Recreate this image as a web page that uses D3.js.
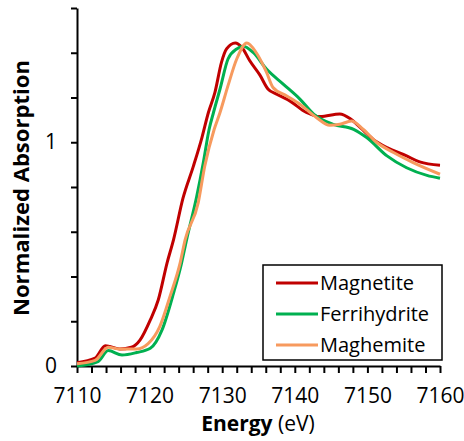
<!DOCTYPE html>
<html>
<head>
<meta charset="utf-8">
<script src="https://cdn.jsdelivr.net/npm/d3@7"></script>
<style>
body { margin: 0; background: #fff; }
text { font-family: "Open Sans", Lato, sans-serif; }
</style>
</head>
<body>
<script>
// energies (eV) and normalized absorption
var magnetiteE = [7110, 7112.5, 7113.9, 7114.5, 7115.9, 7117.5, 7118.7, 7120.1, 7121.2, 7122.4, 7123.3, 7124.6, 7126.0, 7127.2, 7128.1, 7129.0, 7129.9, 7130.6, 7131.8, 7132.7, 7133.8, 7135.2, 7136.3, 7137.5, 7139.3, 7141.6, 7143.5, 7146.2, 7147.6, 7149.0, 7150.8, 7152.7, 7155.4, 7157.2, 7160]
var magnetiteV = [0.015, 0.035, 0.09, 0.087, 0.076, 0.084, 0.117, 0.206, 0.296, 0.46, 0.565, 0.75, 0.89, 1.02, 1.133, 1.223, 1.357, 1.417, 1.444, 1.425, 1.364, 1.30, 1.238, 1.215, 1.185, 1.133, 1.115, 1.126, 1.106, 1.066, 1.013, 0.976, 0.939, 0.912, 0.897]

var ferriE = [7110, 7112.9, 7114.3, 7116.2, 7118.2, 7120.1, 7121.7, 7123.3, 7124.4, 7125.1, 7126.5, 7127.4, 7128.2, 7128.8, 7129.7, 7130.8, 7132.0, 7132.9, 7134.3, 7136.1, 7138.4, 7140.7, 7142.6, 7145.3, 7148.1, 7149.9, 7152.7, 7155.4, 7158.2, 7160]
var ferriV = [0.0, 0.02, 0.069, 0.049, 0.06, 0.079, 0.16, 0.326, 0.46, 0.565, 0.759, 0.909, 1.058, 1.133, 1.238, 1.372, 1.417, 1.429, 1.40, 1.327, 1.26, 1.193, 1.126, 1.08, 1.058, 1.021, 0.939, 0.886, 0.852, 0.839]

var maghemiteE = [7110, 7112.5, 7114.3, 7115.9, 7118.2, 7119.8, 7121.4, 7122.8, 7124.2, 7124.9, 7126.7, 7127.6, 7128.9, 7129.7, 7130.8, 7132.0, 7133.4, 7134.7, 7136.1, 7137.0, 7138.9, 7140.7, 7143.0, 7144.8, 7146.2, 7147.8, 7149.4, 7151.3, 7153.6, 7156.3, 7160]
var maghemiteV = [0.01, 0.025, 0.084, 0.076, 0.076, 0.10, 0.176, 0.31, 0.46, 0.565, 0.73, 0.894, 1.058, 1.133, 1.253, 1.372, 1.444, 1.40, 1.313, 1.245, 1.207, 1.17, 1.11, 1.076, 1.08, 1.095, 1.058, 0.999, 0.954, 0.909, 0.857]

var seriesNames = ["Magnetite", "Ferrihydrite", "Maghemite"]
var seriesColors = ["#c00000", "#00b050", "#f79a5e"]
var xTicks = [7110, 7120, 7130, 7140, 7150, 7160]
var yTickLabels = [0, 1]

var zip = function (es, vs)
{
    return es.map(function (e, i) { return {x: e, y: vs[i]} })
}
var series = [zip(magnetiteE, magnetiteV), zip(ferriE, ferriV), zip(maghemiteE, maghemiteV)]

var width = 464, height = 441

var xscale = d3.scaleLinear().domain([7110, 7160]).range([77, 440])
var yscale = d3.scaleLinear().domain([0, 1.6]).range([366, 8])

var svg = d3.select("body").append("svg")
    .attr("width", width)
    .attr("height", height)

// y axis, minor ticks every 0.2, labels only at 0 and 1
var yaxis = d3.axisLeft(yscale)
    .tickValues(d3.range(0, 1.61, 0.2))
    .tickSize(6)
    .tickSizeOuter(0)
    .tickPadding(14)
    .tickFormat(function (d) { return yTickLabels.some(function (t) { return Math.abs(t - d) < 1e-6 }) ? d3.format("d")(d) : "" })

svg.append("g").attr("transform", "translate(77,0)").call(yaxis)

var xaxis = d3.axisBottom(xscale)
    .tickValues(d3.range(7110, 7160.1, 2))
    .tickSize(7)
    .tickSizeOuter(0)
    .tickPadding(15)
    .tickFormat(function (d) { return xTicks.indexOf(Math.round(d)) >= 0 ? d : "" })

svg.append("g").attr("transform", "translate(0,366)").call(xaxis)

svg.selectAll(".domain, .tick line").attr("stroke", "#000").attr("stroke-width", 2)
svg.selectAll(".tick text").attr("font-size", 21).attr("fill", "#000").style("font-family", "'Open Sans', sans-serif")

// lines
var line = d3.line()
    .x(function (p) { return xscale(p.x) })
    .y(function (p) { return yscale(p.y) })
    .curve(d3.curveMonotoneX)

svg.selectAll("path.series")
    .data(series)
    .enter()
    .append("path")
    .attr("class", "series")
    .attr("d", line)
    .attr("fill", "none")
    .attr("stroke", function (d, i) { return seriesColors[i] })
    .attr("stroke-width", 3)
    .attr("stroke-linejoin", "round")

// axis titles
var xt = svg.append("text")
    .attr("x", 258)
    .attr("y", 431)
    .attr("text-anchor", "middle")
    .attr("font-size", 21)
xt.append("tspan").attr("font-weight", "bold").text("Energy")
xt.append("tspan").text(" (eV)")

svg.append("text")
    .attr("transform", "translate(29,188) rotate(-90)")
    .attr("text-anchor", "middle")
    .attr("font-size", 22)
    .attr("font-weight", "bold")
    .attr("textLength", 256)
    .attr("lengthAdjust", "spacing")
    .text("Normalized Absorption")

// legend
var legend = svg.append("g")
legend.append("rect")
    .attr("x", 263).attr("y", 265)
    .attr("width", 179).attr("height", 95)
    .attr("fill", "#fff")
    .attr("stroke", "#000")
    .attr("stroke-width", 1.5)

var items = legend.selectAll("g.item")
    .data(seriesNames)
    .enter()
    .append("g")
    .attr("class", "item")
    .attr("transform", function (d, i) { return "translate(0," + (283 + i * 31) + ")" })

items.append("line")
    .attr("x1", 276).attr("x2", 318)
    .attr("stroke", function (d, i) { return seriesColors[i] })
    .attr("stroke-width", 3)

items.append("text")
    .attr("x", 320)
    .attr("y", 7)
    .attr("font-size", 20)
    .text(function (d) { return d })
</script>
</body>
</html>
